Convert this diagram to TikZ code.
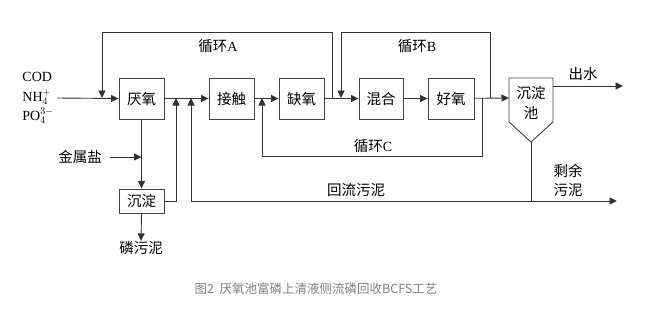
\documentclass[tikz,border=0pt]{standalone}
\usepackage{fontspec}
\setmainfont{Liberation Serif}
\newfontfamily\cjk{Noto Sans CJK SC}
\usetikzlibrary{arrows.meta,calc}
\begin{document}
\begin{tikzpicture}[x=1pt,y=-1pt,
  line width=0.9pt,
  ln/.style={draw=black!80},
  arr/.style={ln,-{Triangle[length=7.5pt,width=7pt]}},
  cjkf/.style={font=\fontsize{14.5}{16}\selectfont\cjk},
  box/.style={draw=black!75,fill=white,minimum height=41pt,inner sep=0pt,cjkf},
  lbl/.style={font=\fontsize{14}{16}\selectfont,inner sep=0pt},
]
\useasboundingbox (0,0) rectangle (663,314);
% boxes
\node[box,minimum width=45pt] (A) at (141.5,98.5) {厌氧};
\node[box,minimum width=45pt] (Ct) at (231.5,98.5) {接触};
\node[box,minimum width=45pt] (Q) at (301.5,98.5) {缺氧};
\node[box,minimum width=44pt] (H) at (381,98.5) {混合};
\node[box,minimum width=46pt] (Y) at (451,98.5) {好氧};
\node[box,minimum width=45pt,minimum height=24pt] (S) at (141.5,201) {沉淀};
% settling tank
\draw[draw=black!75,fill=white] (509,78) -- (553,78) -- (553,122) -- (531,142) -- (509,122) -- cycle;
\node[lbl,cjkf,align=center] (P) at (531,103) {沉淀\\[4pt]池};
\coordinate (Pw) at (509,98);
\coordinate (Ptip) at (531,142);
\coordinate (Pe) at (553,86);
% input
\node[lbl,align=left,anchor=west,font=\fontsize{14}{19.5}\selectfont] (inp) at (22,98) {COD\\NH$_4^+$\\PO$_4^{3-}$};
\coordinate (inS) at (57,98);
\draw[arr] (inS) -- (A.west);
% junction coordinates on main line
\coordinate (jA) at (102,98);
\coordinate (j1) at (176,98);
\coordinate (j2) at (191,98);
\coordinate (jC) at (262,98);
\coordinate (sA) at (332,98);
\coordinate (jB) at (341,98);
\coordinate (sC) at (482,98);
\coordinate (sB) at (490,98);
% main flow
\draw[arr] (A) -- (Ct);
\draw[arr] (Ct) -- (Q);
\draw[arr] (Q) -- (H);
\draw[arr] (H) -- (Y);
\draw[arr] (Y) -- (Pw);
% recycle A
\draw[arr] (sA) -- (332,32) -- (102,32) -- (jA);
\node[lbl] (lA) at (218,46) {{\cjk\fontsize{14.5}{16}\selectfont 循环}A};
% recycle B
\draw[arr] (sB) -- (490,32) -- (341,32) -- (jB);
\node[lbl] (lB) at (417,46) {{\cjk\fontsize{14.5}{16}\selectfont 循环}B};
% recycle C
\draw[arr] (sC) -- (482,156) -- (262,156) -- (jC);
\node[lbl] (lC) at (373,146) {{\cjk\fontsize{14.5}{16}\selectfont 循环}C};
% effluent
\coordinate (outW) at (623,86);
\draw[arr] (Pe) -- (outW);
\node[lbl,cjkf] (lout) at (583,74) {出水};
% metal salt & precipitation
\node[lbl,cjkf] (M) at (80,157) {金属盐};
\coordinate (jM) at (141.5,157);
\draw[ln] (A.south) -- (jM);
\draw[arr] (jM) -- (S.north);
\draw[arr] (M.east) ++(8,0) -- (jM);
\node[lbl,cjkf] (PS) at (141,248) {磷污泥};
\draw[arr] (S.south) -- (PS.north);
\draw[arr] (S.east) -| (j1);
% return sludge
\coordinate (ret) at (191,201);
\coordinate (retE) at (617,201);
\draw[arr] (ret) -- (j2);
\draw[arr] (ret) -- (retE);
\draw[ln] (Ptip) -- (Ptip |- retE);
\node[lbl,cjkf] (lR) at (356,190) {回流污泥};
\node[lbl,font=\fontsize{14.5}{19}\selectfont\cjk,align=center] (lW) at (568,180) {剩余\\污泥};
% caption
\node[lbl,font=\fontsize{12.5}{14}\selectfont\cjk,text=black!50] (cap) at (316,289) {图2\ \ 厌氧池富磷上清液侧流磷回收BCFS工艺};
\end{tikzpicture}
\end{document}
